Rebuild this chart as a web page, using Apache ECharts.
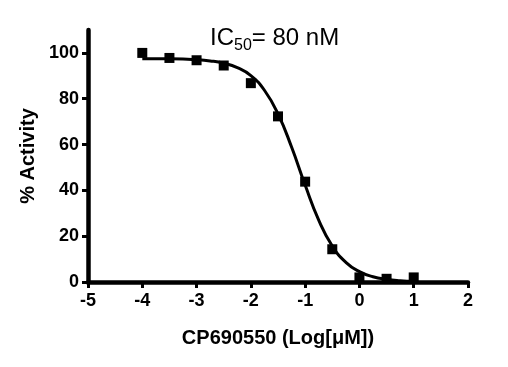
<!DOCTYPE html>
<html><head><meta charset="utf-8">
<script src="https://cdn.jsdelivr.net/npm/echarts@6/dist/echarts.min.js"></script>
<style>html,body{margin:0;padding:0;background:#fff}#c{width:508px;height:367px}</style>
</head><body><div id="c"></div>
<script>
// Measured data points (log concentration, % activity)
const dataX = [-4, -3.5, -3, -2.5, -2, -1.5, -1, -0.5, 0, 0.5, 1];
const dataY = [100, 97.8, 96.8, 94.5, 86.8, 72.3, 43.8, 14.3, 2, 1.4, 2];
// Fitted curve
const curveX = [-4, -3.5, -3, -2.75, -2.5, -2.25, -2, -1.75, -1.5, -1.25, -1, -0.75, -0.5, -0.25, 0, 0.25, 0.5, 0.75, 1];
const curveY = [97.5, 97.4, 97.0, 96.5, 95.5, 93.6, 90.1, 83.7, 73.4, 58.9, 42.3, 27.0, 15.7, 8.6, 4.5, 2.3, 1.2, 0.6, 0.3];
const xTicks = [-5, -4, -3, -2, -1, 0, 1, 2];
const yTicks = [0, 20, 40, 60, 80, 100];

const chart = echarts.init(document.getElementById('c'));
const F = 'Liberation Sans, Arial, sans-serif';
chart.setOption({
  animation: false,
  title: {
    text: '{a|IC}{b|50}{a|= 80 nM}',
    left: 205, top: 17,
    textStyle: { fontWeight: 'normal', rich: {
      a: { fontFamily: F, fontSize: 24, fontWeight: 'normal', color: '#000', verticalAlign: 'bottom', lineHeight: 28 },
      b: { fontFamily: F, fontSize: 16, fontWeight: 'normal', color: '#000', verticalAlign: 'bottom', lineHeight: 19, padding: [0, 0, -4, 0] }
    } }
  },
  grid: { left: 88, right: 40, top: 30, bottom: 85 },
  xAxis: {
    type: 'value', min: -5, max: 2, interval: 1,
    name: 'CP690550 (Log[μM])', nameLocation: 'middle', nameGap: 46,
    nameTextStyle: { fontFamily: F, fontSize: 20, fontWeight: 'bold', color: '#000' },
    axisLine: { onZero: false, lineStyle: { color: '#000', width: 4.5 } },
    axisTick: { show: true, length: 6, lineStyle: { color: '#000', width: 3 }, customValues: xTicks },
    axisLabel: { fontFamily: F, fontSize: 18, fontWeight: 'bold', color: '#000', margin: 10, customValues: xTicks },
    splitLine: { show: false }
  },
  yAxis: {
    type: 'value', min: 0, max: 110, interval: 20,
    name: '% Activity', nameLocation: 'middle', nameGap: 50, nameRotate: 90,
    nameTextStyle: { fontFamily: F, fontSize: 20, fontWeight: 'bold', color: '#000' },
    axisLine: { show: true, onZero: false, lineStyle: { color: '#000', width: 4.5 } },
    axisTick: { show: true, length: 6, lineStyle: { color: '#000', width: 3 }, customValues: yTicks },
    axisLabel: { fontFamily: F, fontSize: 18, fontWeight: 'bold', color: '#000', margin: 9, customValues: yTicks },
    splitLine: { show: false }
  },
  series: [
    { type: 'line', data: curveX.map((x, i) => [x, curveY[i]]), smooth: true, showSymbol: false,
      lineStyle: { color: '#000', width: 3 }, z: 2 },
    { type: 'scatter', data: dataX.map((x, i) => [x, dataY[i]]), symbol: 'rect', symbolSize: 10,
      itemStyle: { color: '#000', opacity: 1 }, z: 3 }
  ]
});
</script></body></html>
